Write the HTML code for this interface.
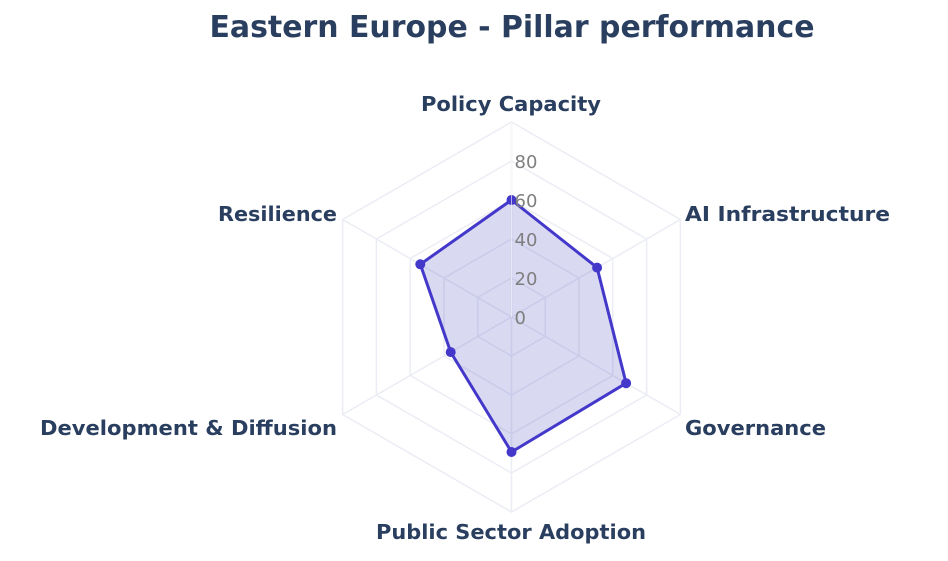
<!DOCTYPE html>
<html><head><meta charset="utf-8"><style>
html,body{margin:0;padding:0;background:#fff;}
svg{display:block;font-family:"DejaVu Sans","Liberation Sans",sans-serif;}
</style></head><body>
<svg width="948" height="561" viewBox="0 0 948 561">
<rect width="948" height="561" fill="#fff"/>
<text x="512" y="37" text-anchor="middle" font-size="30" font-weight="bold" fill="#2a3f5f" textLength="605" lengthAdjust="spacingAndGlyphs">Eastern Europe - Pillar performance</text>
<g transform="translate(511.5,317)">
<g fill="none" stroke="#ebedf4" stroke-width="1.5">
<polygon points="0,-39 33.8,-19.5 33.8,19.5 0,39 -33.8,19.5 -33.8,-19.5"/>
<polygon points="0,-78 67.5,-39 67.5,39 0,78 -67.5,39 -67.5,-39"/>
<polygon points="0,-117 101.3,-58.5 101.3,58.5 0,117 -101.3,58.5 -101.3,-58.5"/>
<polygon points="0,-156 135.1,-78 135.1,78 0,156 -135.1,78 -135.1,-78"/>
<polygon points="0,-195 168.9,-97.5 168.9,97.5 0,195 -168.9,97.5 -168.9,-97.5"/>
<line x1="0" y1="0" x2="0" y2="-195"/><line x1="0" y1="0" x2="0" y2="195"/>
<line x1="0" y1="0" x2="168.9" y2="-97.5"/><line x1="0" y1="0" x2="-168.9" y2="97.5"/>
<line x1="0" y1="0" x2="168.9" y2="97.5"/><line x1="0" y1="0" x2="-168.9" y2="-97.5"/>
</g>
<polygon points="0,-117 85.6,-49.4 114.6,66.2 0,135 -60.8,35.1 -91.2,-52.7" fill="rgba(72,66,190,0.2)" stroke="#4338ca" stroke-width="3" stroke-linejoin="round"/>
<g fill="#4338ca">
<circle cx="0" cy="-117" r="5"/><circle cx="85.6" cy="-49.4" r="5"/><circle cx="114.6" cy="66.2" r="5"/>
<circle cx="0" cy="135" r="5"/><circle cx="-60.8" cy="35.1" r="5"/><circle cx="-91.2" cy="-52.7" r="5"/>
</g>
<line x1="0" y1="0" x2="0" y2="-195" stroke="#fff" stroke-width="1" opacity="0.6"/>
<g font-size="18" fill="#7f7f7f">
<text x="3" y="7">0</text><text x="3" y="-32">20</text><text x="3" y="-71">40</text><text x="3" y="-110">60</text><text x="3" y="-149">80</text>
</g>
</g>
<g font-size="20.5" font-weight="bold" fill="#2a3f5f">
<text x="511" y="111" textLength="180" lengthAdjust="spacingAndGlyphs" text-anchor="middle">Policy Capacity</text>
<text x="685" y="221" textLength="205" lengthAdjust="spacingAndGlyphs">AI Infrastructure</text>
<text x="685" y="435" textLength="141" lengthAdjust="spacingAndGlyphs">Governance</text>
<text x="511" y="539" text-anchor="middle" textLength="270" lengthAdjust="spacingAndGlyphs">Public Sector Adoption</text>
<text x="40" y="435" textLength="297" lengthAdjust="spacingAndGlyphs">Development &amp; Diffusion</text>
<text x="218" y="221" textLength="119" lengthAdjust="spacingAndGlyphs">Resilience</text>
</g>
</svg>
</body></html>
